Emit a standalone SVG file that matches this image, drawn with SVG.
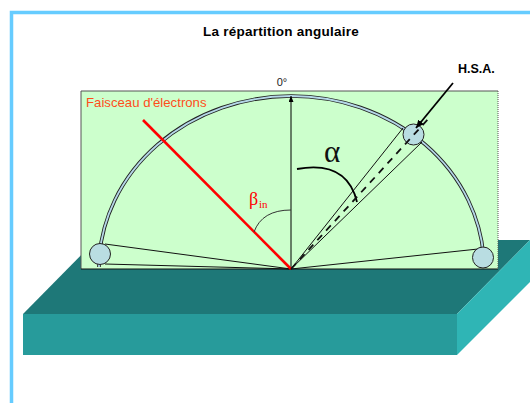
<svg xmlns="http://www.w3.org/2000/svg" width="530" height="403" viewBox="0 0 530 403">
<defs>
<style>
.s{font-family:"Liberation Sans",Arial,sans-serif}
.g{font-family:"Liberation Serif","Times New Roman",serif}
.thin{fill:none;stroke:#111;stroke-width:1}
.hsa{fill:#b9dde2;stroke:#222;stroke-width:1}
</style>
<marker id="a" markerWidth="8" markerHeight="8" refX="6" refY="2.500" orient="auto" markerUnits="userSpaceOnUse"><path d="M0 0L6 2.500L0 5Z" fill="#000"/></marker>
<marker id="b" markerWidth="10" markerHeight="8" refX="8" refY="3.500" orient="auto" markerUnits="userSpaceOnUse"><path d="M0 0L8 3.500L0 7Z" fill="#000"/></marker>
</defs>
<rect width="530" height="403" fill="#fff"/>
<g id="frame"><path d="M11.500 403V12.500H530" fill="none" stroke="#66ccff" stroke-width="3.500"/></g>
<g id="platform">
<path d="M23 314H457L530 240H96Z" fill="#1e7878"/>
<path d="M23 314H457V355H23Z" fill="#279b9b"/>
<path d="M457 314L530 240V282L457 355Z" fill="#2fb5b5"/>
</g>
<g id="panel"><rect x="81" y="91" width="417" height="178" fill="#ccffcc"/>
<path d="M81 269V91H498" fill="none" stroke="#555" stroke-width="1"/>
<path d="M498 91V269" fill="none" stroke="#555" stroke-width="1" stroke-dasharray="1 1"/>
<path d="M81 269H498" stroke="#111" stroke-width="1.200"/></g>
<g id="arc">
<path d="M99 267V262A193 173 0 0 1 291 96A193 173 0 0 1 484 262" fill="none" stroke="#222" stroke-width="3.600"/>
<path d="M99 267V262A193 173 0 0 1 291 96A193 173 0 0 1 484 262" fill="none" stroke="#b5d8e8" stroke-width="1.800"/>
</g>
<g id="connectors">
<path class="thin" d="M291 269L105 244M291 269L105 264M291 269L478 249M291 269L403 128M291 269L422 142"/>
<path d="M291 269V96" fill="none" stroke="#000" stroke-width="1" marker-end="url(#a)"/>
<path d="M143 120L291 269" fill="none" stroke="#ff0000" stroke-width="2.600"/>
<path d="M254 232Q262 210 291 210" fill="none" stroke="#333" stroke-width="1"/>
<path d="M297 169Q347 160 357 202" fill="none" stroke="#000" stroke-width="1.800"/>
</g>
<g id="detector-left"><circle class="hsa" cx="100" cy="254" r="10.500"/></g>
<g id="detector-right"><circle class="hsa" cx="483" cy="257.500" r="10.500"/></g>
<g id="detector-hsa"><circle class="hsa" cx="413.500" cy="134.500" r="10.500"/></g>
<g id="connectors-top">
<path d="M291 269L430 117" fill="none" stroke="#111" stroke-width="1.800" stroke-dasharray="7 6"/>
<path d="M453 83L416 128" fill="none" stroke="#000" stroke-width="1.800" marker-end="url(#b)"/>
</g>
<g id="labels">
<text class="s" x="281" y="36" font-size="13.500" font-weight="700" letter-spacing=".25" text-anchor="middle" fill="#000">La répartition angulaire</text>
<text class="s" x="282" y="86" font-size="11" text-anchor="middle" fill="#222">0°</text>
<text class="s" x="86" y="107" font-size="13.200" fill="#ff4d1a">Faisceau d'électrons</text>
<text class="s" x="458" y="73" font-size="12.500" font-weight="700" fill="#000">H.S.A.</text>
<text class="g" x="324" y="162" font-size="31" fill="#111">α</text>
<text class="g" x="249" y="205" font-size="18" fill="#ff0000">β</text>
<text class="g" x="259" y="208" font-size="11" fill="#ff0000">in</text>
</g>
</svg>
